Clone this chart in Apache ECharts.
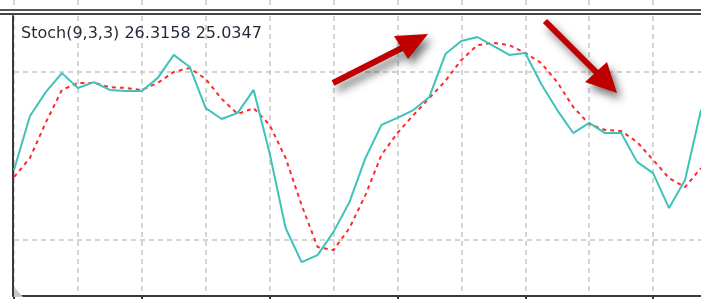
<!DOCTYPE html>
<html>
<head>
  <meta charset="UTF-8">
  <title>Stoch(9,3,3)</title>
  <style>
    html, body { margin: 0; padding: 0; background: #fff; }
    #chart { width: 701px; height: 301px; }
  </style>
</head>
<body>
  <div id="chart"></div>
  <script src="https://cdn.jsdelivr.net/npm/echarts@6/dist/echarts.min.js"></script>
  <script>
    // %K main line, one value per bar
    const mainK = [45, 64.3, 72.9, 79.6, 74.3, 76.4, 73.6, 73.2, 73.2, 77.9,
      86.1, 81.8, 67.1, 63.2, 65.4, 73.6, 51, 24.3, 12.1, 14.6,
      22.9, 33.6, 49.3, 61.1, 63.6, 66.4, 71.1, 86.4, 91.1, 92.5,
      89.3, 86.1, 86.8, 75.7, 66.4, 58.2, 61.8, 58.2, 58.2, 47.9,
      43.9, 31.4, 41.4, 66.4];
    // %D signal line
    const signalD = [42.5, 49.3, 62.1, 73.6, 76.1, 76.1, 74.6, 74.3, 73.6, 76.1,
      80, 81.4, 77.5, 70.4, 65, 67.1, 61.1, 49.3, 32.5, 17.5,
      16.4, 24.3, 36.1, 50.4, 58.2, 64.6, 70.7, 76.8, 84.3, 89.6,
      90.4, 89.6, 86.8, 83.2, 76.4, 67.5, 61.4, 59.3, 58.9, 55,
      48.6, 42.1, 38.9, 45.7];
    const bars = mainK.map((v, i) => String(i + 1));
    // levels drawn as dashed lines
    const yTicks = [0, 20, 40, 60, 80, 100];
    const shownLevels = [0, 20, 80];

    const gridColor = '#c6c6c6';
    const frameColor = '#3a3a3a';
    const arrowRed = '#c00000';
    const arrowShadow = {
      shadowColor: 'rgba(0,0,0,0.55)',
      shadowBlur: 8,
      shadowOffsetX: 4,
      shadowOffsetY: 6
    };

    const chart = echarts.init(document.getElementById('chart'));

    chart.setOption({
      animation: false,
      backgroundColor: '#fff',
      grid: [
        { left: 14, top: 16, width: 688, height: 280 },
        // strip of the panel above
        { left: 14, top: 0, width: 688, height: 9 }
      ],
      xAxis: [{
        type: 'category',
        data: bars,
        boundaryGap: false,
        offset: 2,
        axisLine: { lineStyle: { color: frameColor, width: 2 } },
        axisTick: { interval: 7, length: 3, lineStyle: { color: frameColor, width: 2 } },
        axisLabel: { show: false },
        splitLine: {
          show: true,
          interval: 3,
          lineStyle: { color: gridColor, type: [5, 4], width: 1.5 }
        }
      }, {
        type: 'category',
        gridIndex: 1,
        data: bars,
        boundaryGap: false,
        axisLine: { show: false },
        axisTick: { show: false },
        axisLabel: { show: false },
        splitLine: {
          show: true,
          interval: 3,
          lineStyle: { color: gridColor, type: [5, 4], width: 1.5 }
        }
      }],
      yAxis: [{
        type: 'value',
        min: 0,
        max: 100,
        interval: 20,
        offset: 1,
        axisLine: { show: true, lineStyle: { color: frameColor, width: 2 } },
        axisTick: { show: false },
        axisLabel: { show: false },
        splitLine: {
          show: true,
          lineStyle: {
            color: yTicks.map(t => shownLevels.includes(t) ? gridColor : 'rgba(0,0,0,0)'),
            type: [5, 4],
            width: 1.5
          }
        }
      }, {
        type: 'value',
        gridIndex: 1,
        show: false
      }],
      series: [{
        name: 'Main',
        type: 'line',
        data: mainK,
        symbol: 'none',
        lineStyle: { color: '#3fc2b9', width: 2 },
        z: 3
      }, {
        name: 'Signal',
        type: 'line',
        data: signalD,
        symbol: 'none',
        lineStyle: { color: '#ff2a2a', width: 2, type: [4, 4] },
        z: 2
      }],
      graphic: [
        // top double border
        { type: 'line', shape: { x1: 0, y1: 10, x2: 701, y2: 10 }, style: { stroke: '#555', lineWidth: 2 }, z: 10 },
        { type: 'line', shape: { x1: 0, y1: 14, x2: 701, y2: 14 }, style: { stroke: '#444', lineWidth: 2 }, z: 10 },
        // shift marker
        { type: 'polygon', shape: { points: [[14, 287], [14, 297], [23, 297]] }, style: { fill: '#c8c8c8' }, z: 10 },
        {
          type: 'text', left: 21, top: 26,
          style: { text: 'Stoch(9,3,3) 26.3158 25.0347', fill: '#1f2a36', font: '16px "DejaVu Sans"' },
          z: 10
        },
        // arrow up
        { type: 'line', shape: { x1: 333, y1: 83, x2: 402, y2: 48 }, style: Object.assign({ stroke: arrowRed, lineWidth: 6 }, arrowShadow), z: 20 },
        { type: 'polygon', shape: { points: [[394, 36], [428, 34], [408, 59]] }, style: Object.assign({ fill: arrowRed }, arrowShadow), z: 20 },
        // arrow down
        { type: 'line', shape: { x1: 545, y1: 21, x2: 597, y2: 73 }, style: Object.assign({ stroke: arrowRed, lineWidth: 6 }, arrowShadow), z: 20 },
        { type: 'polygon', shape: { points: [[585, 82], [607, 62], [617, 93]] }, style: Object.assign({ fill: arrowRed }, arrowShadow), z: 20 }
      ]
    });
  </script>
</body>
</html>
